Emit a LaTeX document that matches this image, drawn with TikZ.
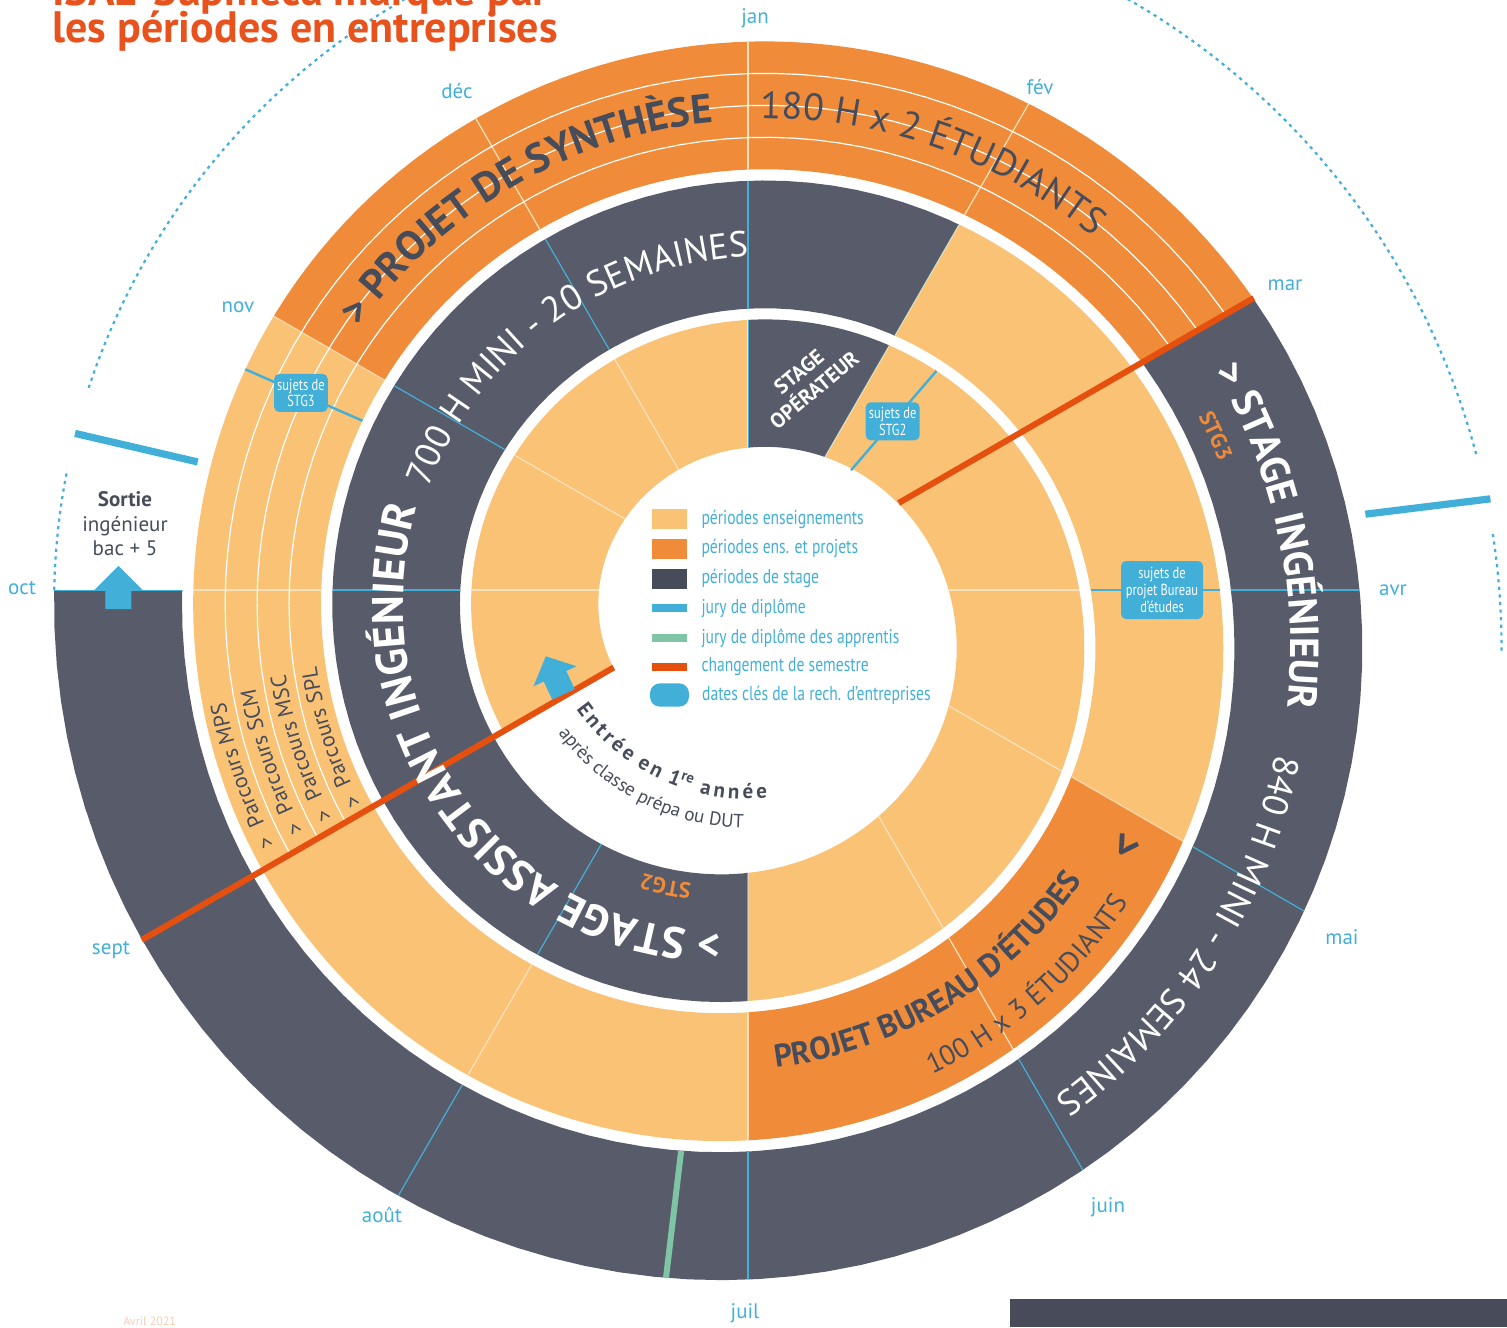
\documentclass[tikz,border=0pt]{standalone}
\usepackage{fontspec}
\setmainfont{PT Sans}
\usepackage{graphicx}
\usetikzlibrary{decorations.text, positioning}

\definecolor{lor}{HTML}{F9C275}
\definecolor{ora}{HTML}{F08C39}
\definecolor{drk}{HTML}{585C6A}
\definecolor{ldrk}{HTML}{474B5A}
\definecolor{txt}{HTML}{474C5B}
\definecolor{blu}{HTML}{42AFD9}
\definecolor{rd}{HTML}{E6500F}
\definecolor{grn}{HTML}{7FC5A5}
\definecolor{pale}{HTML}{FCE2BC}
\definecolor{ttl}{HTML}{E8521C}
\definecolor{avc}{HTML}{F9CDB5}

\newcommand{\ns}{80}
\newcommand{\cond}[1]{\scalebox{0.78}[1]{#1}}
% one line of the spiral: depth under the outer edge, turn angles
\newcommand{\spiral}[3]{plot[domain=#2:#3,samples=\ns,variable=\p] ({-5-(271-#1+0.38667*\p)*cos(\p)},{-36+(271-#1+0.38667*\p)*sin(\p)})}
% the band between two turn angles
\newcommand{\band}[2]{plot[domain=#1:#2,samples=\ns,variable=\p] ({-5-(271+0.38667*\p)*cos(\p)},{-36+(271+0.38667*\p)*sin(\p)}) -- plot[domain=#2:#1,samples=\ns,variable=\p] ({-5-(143+0.38667*\p)*cos(\p)},{-36+(143+0.38667*\p)*sin(\p)}) -- cycle}
% a wedge between two month lines
\newcommand{\pie}[2]{(0,0) -- (#1:1500) -- ({(#1)+((#2)-(#1))/4}:1500) -- ({(#1)+((#2)-(#1))/2}:1500) -- ({(#1)+3*((#2)-(#1))/4}:1500) -- (#2:1500) -- cycle}
% one period of the spiral
\newcommand{\seg}[6]{%
  \begin{scope}
    \clip \pie{#1}{#2};
    \clip \band{#3}{#4};
    \fill[#5] (-800,-800) rectangle (800,800);
    \foreach \ang in {0,30,...,330} \draw[#6] (0,0) -- (\ang:900);
  \end{scope}}

\begin{document}
\begin{tikzpicture}[x=0.5pt,y=0.5pt]
    \tikzstyle{spk}=[draw=pale, line width=0.6pt]
    \tikzstyle{spkb}=[draw=blu, line width=0.6pt]
    \tikzstyle{datekey}=[draw=blu, line width=1.2pt]
    \tikzstyle{jury}=[draw=blu, line width=3.6pt]
    \tikzstyle{dotring}=[draw=blu, line width=1.1pt, dash pattern=on 1.6pt off 2.2pt]
    \tikzstyle{month}=[text=blu, inner sep=0pt, font=\fontsize{10.5}{10.5}\selectfont]
    \tikzstyle{keybox}=[minimum width=17.8pt, minimum height=9.85pt, inner sep=0pt]
    \tikzstyle{keytext}=[text=blu, inner sep=0pt, font=\fontsize{10}{10}\selectfont]
    \tikzstyle{datebox}=[fill=blu, text=white, rounded corners=2.5pt, align=center, inner sep=1.5pt, font=\fontsize{8}{8.4}\selectfont]

    \useasboundingbox (-748,-737) rectangle (759,590);
    \clip (-748,-737) rectangle (759,590);

    % periods, from september of the first year
    \seg{210}{90}{-45}{105}{lor}{spk}
    \seg{90}{60}{75}{135}{drk}{spkb}
    \seg{60}{-90}{105}{285}{lor}{spk}
    \seg{-90}{-300}{255}{495}{drk}{spkb}
    \seg{-300}{-390}{465}{585}{lor}{spk}
    \seg{-390}{-450}{555}{645}{ora}{spk}
    \seg{-450}{-510}{615}{705}{lor}{spk}
    \seg{-510}{-570}{675}{765}{lor}{spk}
    \seg{-570}{-690}{735}{885}{ora}{spk}
    \seg{-690}{-900}{855}{1095}{drk}{spkb}

    % parcours lanes
    \begin{scope}
      \clip \pie{-510}{-690};
      \foreach \d in {32,64,96} \draw[white, line width=0.6pt] \spiral{\d}{675}{885};
    \end{scope}

    % semester changes
    \draw[rd, line width=3pt] (210:155) -- (210:700);
    \draw[rd, line width=3pt] (30:174) -- (30:584);

    % key dates and juries
    \draw[datekey] (49.3:158) -- (49.3:289);
    \draw[datekey] (0:343) -- (0:472);
    \draw[datekey] (156.3:421) -- (156.3:549);
    \draw[jury] (166.9:565) -- (166.9:691);
    \draw[jury] (7:622) -- (7:748);
    \draw[grn, line width=3pt] (-96.8:565) -- (-96.8:693);

    \draw[dotring] \spiral{0}{1083}{1093};
    \draw[dotring] \spiral{0}{1100}{1247};
    \draw[dotring] \spiral{0}{1253}{1262};

    % texts along the bands
    \path[decorate, decoration={text along path, text align=center, text color=txt,
      text={|\bfseries\fontsize{20.5}{20.5}\selectfont|> PROJET DE SYNTHÈSE}}] \spiral{78}{700}{860};
    \path[decorate, decoration={text along path, text align=center, text color=txt,
      text={|\fontsize{19}{19}\selectfont|180 H x 2 ÉTUDIANTS}}] \spiral{77}{790}{873};
    \path[decorate, decoration={text along path, text align=center, text color=white,
      text={|\fontsize{18}{18}\selectfont|700 H MINI - 20 SEMAINES}}] \spiral{76}{356}{476};
    \path[decorate, decoration={text along path, text align=center, text color=white,
      text={|\bfseries\fontsize{22}{22}\selectfont|> STAGE ASSISTANT INGÉNIEUR}}] \spiral{71}{246}{404};
    \path[decorate, decoration={text along path, text align=center, text color=white,
      text={|\bfseries\fontsize{20.3}{20.3}\selectfont|> STAGE INGÉNIEUR}}] \spiral{72}{830}{948};
    \path[decorate, decoration={text along path, text align=center, text color=white,
      text={|\fontsize{18}{18}\selectfont|840 H MINI - 24 SEMAINES}}] \spiral{76}{874}{994};
    \path[decorate, decoration={text along path, text align=center, text color=txt,
      text={|\bfseries\fontsize{15.9}{15.9}\selectfont|PROJET BUREAU D’ÉTUDES}}] \spiral{70}{660}{540};
    \path[decorate, decoration={text along path, text align=center, text color=txt,
      text={|\fontsize{14}{14}\selectfont|100 H x 3 ÉTUDIANTS}}] \spiral{19}{650}{530};
    \path[decorate, decoration={text along path, text align=center, text color=ora,
      text={|\bfseries\fontsize{11}{11}\selectfont|STG2}}] \spiral{117}{270}{303};
    \path[decorate, decoration={text along path, text align=center, text color=ora,
      text={|\bfseries\fontsize{11}{11}\selectfont|STG3}}] \spiral{108}{861}{895};
    \path[decorate, decoration={text along path, text color=txt,
      text={|\fontsize{11}{11}\selectfont|>{\ \ }Parcours MPS}}] \spiral{23}{695}{745};
    \path[decorate, decoration={text along path, text color=txt,
      text={|\fontsize{11}{11}\selectfont|>{\ \ }Parcours SCM}}] \spiral{55}{695}{745};
    \path[decorate, decoration={text along path, text color=txt,
      text={|\fontsize{11}{11}\selectfont|>{\ \ }Parcours MSC}}] \spiral{87}{695}{745};
    \path[decorate, decoration={text along path, text color=txt,
      text={|\fontsize{11}{11}\selectfont|>{\ \ }Parcours SPL}}] \spiral{119}{695}{745};
    \path[decorate, decoration={text along path, text align=center, text color=txt,
      text={|\bfseries\fontsize{10.5}{10.5}\selectfont|E{\kern1.7pt}n{\kern1.7pt}t{\kern1.7pt}r{\kern1.7pt}é{\kern1.7pt}e{\kern1.7pt} e{\kern1.7pt}n{\kern1.7pt} 1{\textsuperscript{re}}{\kern1.7pt} a{\kern1.7pt}n{\kern1.7pt}n{\kern1.7pt}é{\kern1.7pt}e}}]
      plot[domain=196:294, samples=60, variable=\p] (\p:209);
    \path[decorate, decoration={text along path, text align=center, text color=txt,
      text={|\fontsize{9.5}{9.5}\selectfont|après classe prépa ou DUT}}]
      plot[domain=198:288, samples=60, variable=\p] (\p:238);

    \node[rotate=40, align=center, text=white, font=\bfseries\fontsize{10.5}{12}\selectfont] (stop) at (58.6,209) {STAGE\\OPÉRATEUR};
    \node[rotate=-124, text=txt, inner sep=0pt, font=\bfseries\fontsize{22}{22}\selectfont] (chev) at (377,-255) {>};

    % key date boxes
    \node[datebox, minimum width=27pt, minimum height=19pt] (b-stg2) at (144.7,168.7) {\cond{sujets de}\\\cond{STG2}};
    \node[datebox, minimum width=41pt, minimum height=29pt] (b-bur) at (414,0) {\cond{sujets de}\\\cond{projet Bureau}\\\cond{d’études}};
    \node[datebox, minimum width=26pt, minimum height=19pt] (b-stg3) at (-447,197) {\cond{sujets de}\\\cond{STG3}};

    % entry and exit
    \begin{scope}[shift={(209.5:212)}, rotate=115]
      \fill[blu] (0,-12.4) -- (20,-12.4) -- (20,-23.7) -- (42,0) -- (20,23.7) -- (20,12.4) -- (0,12.4) -- cycle;
    \end{scope}
    \fill[blu] (-642.5,-19) -- (-642.5,0) -- (-653.75,0) -- (-629.5,24) -- (-605.25,0) -- (-616.5,0) -- (-616.5,-19) -- cycle;
    \node[align=center, text=txt, inner sep=0pt, font=\fontsize{10.5}{12.3}\selectfont] (sortie) at (-623,66) {\textbf{Sortie}\\ingénieur\\bac + 5};

    % legend
    \node[keybox, fill=lor] (k1) at (-78.5,70.8) {};
    \node[keybox, fill=ora] (k2) at (-78.5,41.3) {};
    \node[keybox, fill=ldrk] (k3) at (-78.5,11.3) {};
    \node[keybox, minimum height=3.6pt, fill=blu] (k4) at (-78.5,-18) {};
    \node[keybox, minimum height=3.6pt, fill=grn] (k5) at (-78.5,-48) {};
    \node[keybox, minimum height=3.6pt, fill=rd] (k6) at (-78.5,-77) {};
    \node[keybox, minimum width=19.5pt, minimum height=11.7pt, rounded corners=5pt, fill=blu] (k7) at (-78.5,-105) {};
    \node[keytext, right=6.7pt of k1] (t1) {\cond{périodes enseignements}};
    \node[keytext, right=6.7pt of k2] (t2) {\cond{périodes ens. et projets}};
    \node[keytext, right=6.7pt of k3] (t3) {\cond{périodes de stage}};
    \node[keytext, right=6.7pt of k4] (t4) {\cond{jury de diplôme}};
    \node[keytext, right=6.7pt of k5] (t5) {\cond{jury de diplôme des apprentis}};
    \node[keytext, right=6.7pt of k6] (t6) {\cond{changement de semestre}};
    \node[keytext, right=6.2pt of k7] (t7) {\cond{dates clés de la rech. d’entreprises}};

    % months
    \node[month] (m-jan) at (7,572) {jan};
    \node[month] (m-fev) at (292,503) {fév};
    \node[month] (m-mar) at (537,305) {mar};
    \node[month] (m-avr) at (645,0) {avr};
    \node[month] (m-mai) at (594,-347) {mai};
    \node[month] (m-juin) at (360,-617) {juin};
    \node[month] (m-juil) at (-3,-723) {juil};
    \node[month] (m-aout) at (-366,-625) {août};
    \node[month] (m-sept) at (-637,-360) {sept};
    \node[month] (m-oct) at (-726,2) {oct};
    \node[month] (m-nov) at (-510,283) {nov};
    \node[month] (m-dec) at (-291,499) {déc};

    % title and footer
    \node[anchor=base west, inner sep=0pt, text=ttl, font=\bfseries\fontsize{22}{22}\selectfont] (title1) at (-696,584) {ISAE-Supméca marqué par};
    \node[anchor=base west, inner sep=0pt, text=ttl, font=\bfseries\fontsize{22}{22}\selectfont] (title2) at (-696,547) {les périodes en entreprises};
    \node[anchor=west, inner sep=0pt, text=avc, font=\fontsize{6}{6}\selectfont] (date) at (-625,-731) {Avril 2021};
    \fill[ldrk] (262,-709) rectangle (759,-737);
\end{tikzpicture}
\end{document}
